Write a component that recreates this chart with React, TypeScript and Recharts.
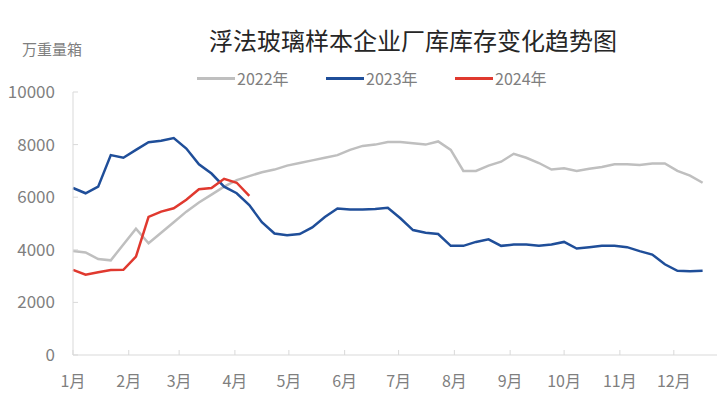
import React from 'react';
import { LineChart, Line, XAxis, YAxis } from 'recharts';

// weekly factory inventory, 万重量箱
const Y2022 = [
  3950, 3900, 3650, 3600, 4200, 4800, 4250, 4650, 5050, 5450,
  5800, 6100, 6400, 6650, 6800, 6950, 7050, 7200, 7300, 7400,
  7500, 7600, 7800, 7950, 8000, 8100, 8100, 8050, 8000, 8120,
  7800, 7000, 7000, 7200, 7350, 7650, 7500, 7300, 7050, 7100,
  7000, 7080, 7150, 7250, 7250, 7220, 7280, 7280, 7000, 6820,
  6550,
];
const Y2023 = [
  6350, 6150, 6400, 7600, 7500, 7800, 8090, 8150, 8250, 7850,
  7250, 6900, 6400, 6150, 5700, 5050, 4620, 4550, 4600, 4850,
  5250, 5570, 5530, 5530, 5550, 5600, 5200, 4750, 4650, 4600,
  4150, 4150, 4300, 4400, 4150, 4200, 4200, 4150, 4200, 4300,
  4050, 4100, 4150, 4150, 4100, 3950, 3820, 3450, 3200, 3180,
  3200,
];
const Y2024 = [
  3240, 3050, 3150, 3230, 3240, 3740, 5250, 5450, 5580, 5900,
  6300, 6350, 6700, 6550, 6050,
];

const MONTH_DAYS = [0, 31, 59, 90, 120, 151, 181, 212, 243, 273, 304, 334];
const MONTH_LABELS = ['1月', '2月', '3月', '4月', '5月', '6月', '7月', '8月', '9月', '10月', '11月', '12月'];
const Y_TICKS = [0, 2000, 4000, 6000, 8000, 10000];

const SERIES = [
  { key: 'y2022', name: '2022年', color: '#bfbfbf' },
  { key: 'y2023', name: '2023年', color: '#1f4e99' },
  { key: 'y2024', name: '2024年', color: '#e0392f' },
];

const data = Y2022.map((v, i) => ({
  day: i * 7,
  y2022: v,
  y2023: Y2023[i],
  y2024: i < Y2024.length ? Y2024[i] : undefined,
}));

const FONT = '"Noto Sans CJK SC", "Noto Sans", sans-serif';
const GREY = '#7f7f7f';

export default function App() {
  return (
    <div style={{ position: 'absolute', left: 0, top: 0, width: 720, height: 401, background: '#fff', fontFamily: FONT }}>
      {/* titre + unité */}
      <div style={{ position: 'absolute', top: 24, left: 209, fontSize: 24, lineHeight: '32px', color: '#262626', whiteSpace: 'nowrap' }}>
        浮法玻璃样本企业厂库库存变化趋势图
      </div>
      <div style={{ position: 'absolute', top: 38, left: 22, fontSize: 15, lineHeight: '22px', color: GREY }}>万重量箱</div>

      {/* légende */}
      <div style={{ position: 'absolute', top: 67, left: 197, display: 'flex', fontSize: 16, lineHeight: '22px', color: GREY }}>
        {SERIES.map(s => (
          <div key={s.key} style={{ display: 'flex', alignItems: 'center', width: 129 }}>
            <span style={{ display: 'inline-block', width: 38, height: 3, background: s.color, marginRight: 2 }} />
            {s.name}
          </div>
        ))}
      </div>

      <LineChart width={720} height={401} data={data} margin={{ top: 92, right: 3, left: 0, bottom: 16 }}>
        <XAxis
          dataKey="day"
          type="number"
          domain={[0, 358]}
          ticks={MONTH_DAYS}
          tickFormatter={(d: number) => MONTH_LABELS[MONTH_DAYS.indexOf(d)]}
          interval={0}
          height={30}
          tick={{ fontSize: 16, fill: GREY, fontFamily: FONT }}
          tickSize={-5}
          tickMargin={26}
          axisLine={{ stroke: '#d9d9d9' }}
          tickLine={{ stroke: '#d9d9d9' }}
        />
        <YAxis
          domain={[0, 10000]}
          ticks={Y_TICKS}
          width={73}
          tick={{ fontSize: 17, fill: GREY, fontFamily: FONT }}
          tickSize={-5}
          tickMargin={23}
          axisLine={{ stroke: '#d9d9d9' }}
          tickLine={{ stroke: '#d9d9d9' }}
        />
        {SERIES.map(s => (
          <Line
            key={s.key}
            type="linear"
            dataKey={s.key}
            name={s.name}
            stroke={s.color}
            strokeWidth={2.5}
            dot={false}
            isAnimationActive={false}
          />
        ))}
      </LineChart>
    </div>
  );
}
